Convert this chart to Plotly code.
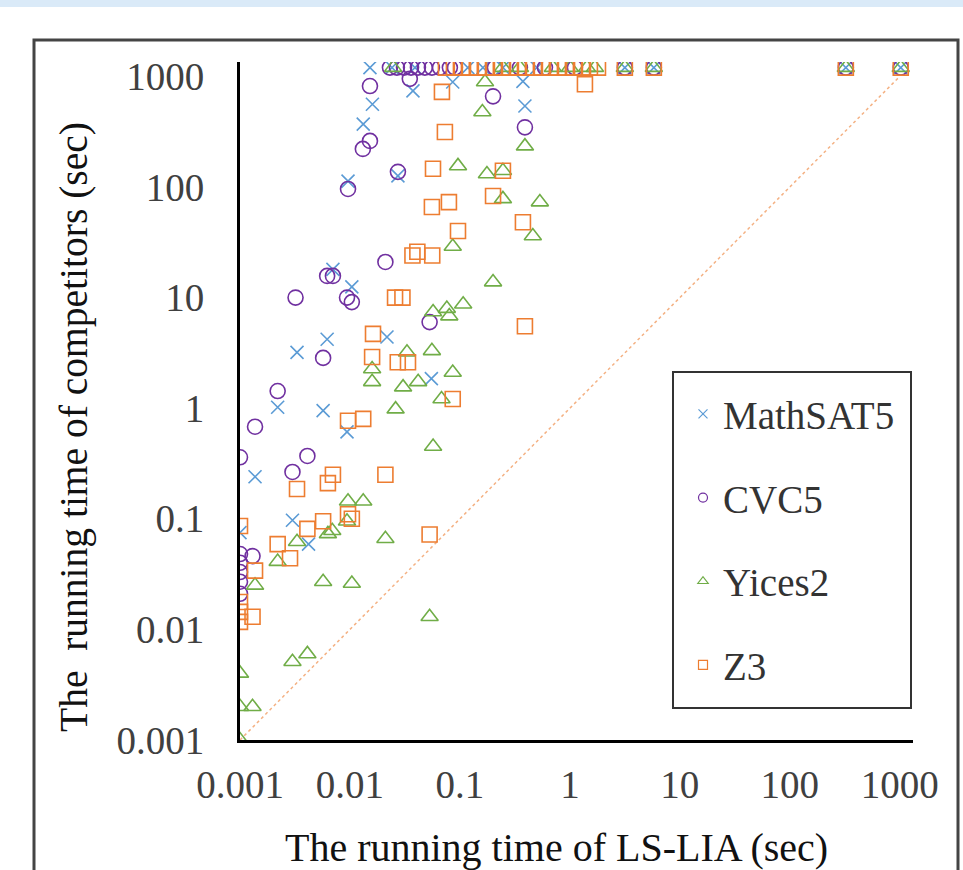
import plotly.graph_objects as go

# ---------------- data (seconds) ----------------
TIMEOUT = 1200

math_x = [0.016, 0.0132, 0.0096, 0.0273, 0.0374, 0.086, 0.374, 0.39, 0.007, 0.0104,
          0.0217, 0.0062, 0.0033, 0.055, 0.0022, 0.0057, 0.0094, 0.00137, 0.003, 0.0042, 0.001]
math_y = [560, 370, 113, 126, 740, 890, 900, 540, 18, 12.5,
          4.4, 4.2, 3.2, 1.85, 1.02, 0.95, 0.61, 0.24, 0.097, 0.059, 0.075]
math_to_x = [0.0152, 0.0241, 0.039, 0.118, 0.162, 0.246, 0.5, 3.16, 5.8, 323, 1020]

cvc_x = [0.0152, 0.0152, 0.0131, 0.035, 0.2, 0.39, 0.0096, 0.0273, 0.021, 0.0062,
         0.007, 0.0032, 0.0094, 0.0104, 0.053, 0.0057, 0.0022, 0.00137, 0.001, 0.0041,
         0.003, 0.001, 0.0013, 0.001, 0.001, 0.001, 0.001]
cvc_y = [818, 261, 221, 950, 660, 346, 96, 137, 21, 15.7,
         15.7, 10, 10, 9.1, 6, 2.85, 1.43, 0.68, 0.36, 0.37,
         0.265, 0.048, 0.046, 0.04, 0.033, 0.027, 0.021]
cvc_to_x = [0.0231, 0.0267, 0.031, 0.0359, 0.0415, 0.048, 0.0556, 0.0658, 0.081, 0.09,
            0.208, 0.351, 0.593, 1.11, 3.16, 5.8, 323, 1020]

yic_x = [0.169, 0.16, 0.39, 0.096, 0.176, 0.246, 0.246, 0.533, 0.46, 0.086,
         0.2, 0.057, 0.076, 0.107, 0.08, 0.033, 0.0556, 0.0159, 0.0159, 0.0304,
         0.0417, 0.086, 0.068, 0.026, 0.057, 0.0096, 0.0132, 0.0094, 0.0069, 0.0063,
         0.021, 0.0033, 0.0022, 0.00137, 0.0057, 0.0104, 0.053, 0.003, 0.0041, 0.001,
         0.001, 0.0013, 0.001]
yic_y = [890, 476, 234, 155, 131, 140, 78, 73, 36, 29,
         13.8, 7.4, 7.95, 8.7, 6.8, 3.2, 3.3, 2.26, 1.73, 1.55,
         1.73, 2.1, 1.21, 0.98, 0.45, 0.144, 0.144, 0.095, 0.078, 0.073,
         0.066, 0.062, 0.041, 0.025, 0.027, 0.026, 0.013, 0.0051, 0.006, 0.004,
         0.002, 0.002, 0.001]
yic_to_x = [0.0247, 0.246, 0.351, 0.7, 1.0, 1.43, 1.69, 3.16, 5.8, 323, 1020]

z3_x = [0.0686, 1.37, 0.073, 0.0569, 0.246, 0.0556, 0.0794, 0.2, 0.374, 0.096,
        0.037, 0.056, 0.041, 0.0257, 0.03, 0.39, 0.0162, 0.0159, 0.0272, 0.0337,
        0.086, 0.0096, 0.0132, 0.007, 0.0063, 0.0033, 0.021, 0.0057, 0.0041, 0.0096,
        0.0104, 0.053, 0.0022, 0.00285, 0.00137, 0.0013, 0.001, 0.001, 0.001, 0.001]
z3_y = [725, 850, 314, 146, 140, 66, 73, 83, 48, 40,
        24, 24, 26, 10, 10, 5.5, 4.7, 2.9, 2.6, 2.6,
        1.21, 0.77, 0.8, 0.25, 0.21, 0.186, 0.25, 0.095, 0.081, 0.11,
        0.1, 0.072, 0.059, 0.044, 0.034, 0.013, 0.086, 0.0177, 0.0144, 0.0117]
z3_to_x = [0.0746, 0.0882, 0.104, 0.123, 0.146, 0.172, 0.204, 0.241, 0.285, 0.337,
           0.398, 0.471, 0.556, 0.658, 0.778, 0.92, 1.09, 1.29, 1.52, 1.8,
           3.16, 5.8, 323, 1020]

diag = [0.001, 1000]
tick_vals = [0.001, 0.01, 0.1, 1, 10, 100, 1000]
tick_text = ["0.001", "0.01", "0.1", "1", "10", "100", "1000"]

names = ["MathSAT5", "CVC5", "Yices2", "Z3"]
colors = ["#5B9BD5", "#7030A0", "#70AD47", "#ED7D31"]
symbols = ["x-thin-open", "circle-open", "triangle-up-open", "square-open"]
sizes = [13, 15, 15, 15]

series = [
    (math_x + math_to_x, math_y + [TIMEOUT] * len(math_to_x)),
    (cvc_x + cvc_to_x, cvc_y + [TIMEOUT] * len(cvc_to_x)),
    (yic_x + yic_to_x, yic_y + [TIMEOUT] * len(yic_to_x)),
    (z3_x + z3_to_x, z3_y + [TIMEOUT] * len(z3_to_x)),
]

FONT = "Liberation Serif, Times New Roman, serif"

fig = go.Figure()
fig.add_trace(go.Scatter(x=diag, y=diag, mode="lines", showlegend=False,
                         line=dict(color="#F4B183", dash="dot", width=1.5),
                         hoverinfo="skip"))
for (xs, ys), n, c, s, sz in zip(series, names, colors, symbols, sizes):
    fig.add_trace(go.Scatter(
        x=xs, y=ys, mode="markers", name=n, legendgroup=n, showlegend=False,
        marker=dict(symbol=s, size=sz, color=c, line=dict(color=c, width=1.6)),
    ))
# legend entries (small symbols, as in the reference legend)
for n, c, s in zip(names, colors, symbols):
    fig.add_trace(go.Scatter(
        x=[None], y=[None], mode="markers", name=n, legendgroup=n, showlegend=True,
        marker=dict(symbol=s, size=9, color=c, line=dict(color=c, width=1.2)),
    ))

# plot area: x 240..913 px, y 62..740 px
W, H = 963, 870
L, R, T, B = 240, 50, 62, 130
pw, ph = W - L - R, H - T - B


def px(x):
    return (x - L) / pw


def py(y):
    return (H - B - y) / ph


shapes = [
    dict(type="rect", xref="paper", yref="paper", x0=px(0), x1=px(W), y0=py(7), y1=py(-2),
         fillcolor="#DAEAF8", line=dict(width=0), layer="above"),
    dict(type="rect", xref="paper", yref="paper", x0=px(34), x1=px(958), y0=py(900), y1=py(40),
         line=dict(color="#444444", width=3), fillcolor="rgba(0,0,0,0)"),
    dict(type="rect", xref="paper", yref="paper", x0=px(673), x1=px(911), y0=py(708), y1=py(372),
         line=dict(color="#333333", width=2), fillcolor="rgba(0,0,0,0)"),
]

fig.update_layout(
    width=W, height=H,
    margin=dict(l=L, r=R, t=T, b=B),
    paper_bgcolor="white", plot_bgcolor="white",
    font=dict(family=FONT, color="#222222"),
    shapes=shapes,
    showlegend=True,
    legend=dict(x=px(683), y=py(382), xanchor="left", yanchor="top",
                bgcolor="rgba(0,0,0,0)", borderwidth=0,
                font=dict(family=FONT, size=39, color="#333333"),
                itemsizing="trace", tracegroupgap=30, traceorder="grouped"),
    annotations=[
        dict(text="The running time of LS-LIA (sec)", xref="paper", yref="paper",
             x=px(556), y=py(847), showarrow=False, xanchor="center", yanchor="middle",
             font=dict(family=FONT, size=40, color="#111111")),
        dict(text="The  running time of competitors (sec)", xref="paper", yref="paper",
             x=px(74), y=py(427), showarrow=False, xanchor="center", yanchor="middle",
             textangle=-90, font=dict(family=FONT, size=39.5, color="#111111")),
    ],
)

fig.update_xaxes(type="log", range=[-3, 3.12], showgrid=False, zeroline=False,
                 showline=True, linecolor="black", linewidth=3,
                 tickvals=tick_vals, ticktext=tick_text, ticks="outside", ticklen=8,
                 tickcolor="rgba(0,0,0,0)",
                 tickfont=dict(family=FONT, size=39, color="#404040"))
fig.update_yaxes(type="log", range=[-3, 3.13], showgrid=False, zeroline=False,
                 showline=True, linecolor="black", linewidth=3,
                 tickvals=tick_vals, ticktext=tick_text, ticks="outside", ticklen=25,
                 tickcolor="rgba(0,0,0,0)",
                 tickfont=dict(family=FONT, size=39, color="#404040"))

fig.write_html("out.html", config={"displayModeBar": False},
               post_script="document.body.style.margin='0';document.body.style.overflow='hidden';")
